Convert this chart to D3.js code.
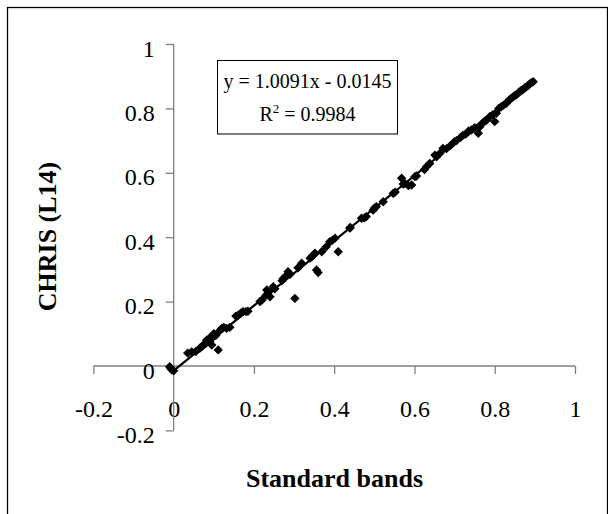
<!DOCTYPE html>
<html>
<head>
<meta charset="utf-8">
<script src="https://cdn.jsdelivr.net/npm/d3@7"></script>
<style>
  body { margin: 0; background: #fff; }
  svg { display: block; }
  .tick text { font-family: "Liberation Serif", "Times New Roman", serif; font-size: 24px; fill: #000; }
  .axis path, .axis line { stroke: #808080; stroke-width: 1.3; }
  .title { font-family: "Liberation Serif", "Times New Roman", serif; font-size: 26px; font-weight: bold; fill: #000; }
  .eq { font-family: "Liberation Serif", "Times New Roman", serif; font-size: 20px; fill: #000; }
</style>
</head>
<body>
<svg width="608" height="514"></svg>
<script>
// standard bands (x) vs CHRIS L14 (y)
const standardBands = [
  -0.008, -0.005, -0.01, 0.0,
  0.035, 0.045, 0.055, 0.065, 0.07, 0.074, 0.08, 0.082, 0.086, 0.09, 0.092, 0.095, 0.099, 0.1, 0.105, 0.111, 0.115, 0.12, 0.125, 0.132, 0.14,
  0.155, 0.161, 0.168, 0.173, 0.18, 0.185,
  0.215, 0.22, 0.23, 0.232, 0.236, 0.24, 0.248, 0.252,
  0.27, 0.273, 0.28, 0.285, 0.29, 0.302, 0.31, 0.319,
  0.34, 0.345, 0.348, 0.352, 0.356, 0.36, 0.369, 0.38, 0.389, 0.395, 0.402, 0.41,
  0.439, 0.44, 0.468, 0.475, 0.48, 0.497, 0.5, 0.505, 0.522, 0.547, 0.552, 0.568, 0.572, 0.576, 0.585, 0.593, 0.601, 0.605,
  0.625, 0.63, 0.638, 0.651, 0.655, 0.663, 0.671, 0.68, 0.69, 0.70, 0.705, 0.715, 0.721, 0.728, 0.735, 0.742, 0.75, 0.759, 0.763,
  0.77, 0.775, 0.78, 0.788, 0.795, 0.80, 0.804, 0.81, 0.816, 0.822, 0.829, 0.835, 0.84, 0.845, 0.85, 0.854, 0.86, 0.865,
  0.87, 0.875, 0.879, 0.884, 0.888, 0.892, 0.896
];
const chrisL14 = [
  -0.006, -0.012, -0.002, -0.015,
  0.04, 0.044, 0.045, 0.055, 0.06, 0.065, 0.07, 0.08, 0.081, 0.075, 0.09, 0.065, 0.091, 0.1, 0.095, 0.05, 0.11, 0.117, 0.12, 0.117, 0.12,
  0.155, 0.158, 0.165, 0.169, 0.169, 0.17,
  0.2, 0.205, 0.22, 0.236, 0.228, 0.215, 0.246, 0.24,
  0.265, 0.272, 0.28, 0.293, 0.285, 0.21, 0.305, 0.319,
  0.335, 0.34, 0.345, 0.35, 0.298, 0.29, 0.355, 0.37, 0.386, 0.39, 0.397, 0.355,
  0.428, 0.43, 0.459, 0.46, 0.464, 0.484, 0.49, 0.495, 0.51, 0.536, 0.54, 0.583, 0.565, 0.567, 0.56, 0.562, 0.588, 0.59,
  0.61, 0.619, 0.629, 0.655, 0.65, 0.66, 0.676, 0.675, 0.685, 0.697, 0.7, 0.71, 0.717, 0.72, 0.73, 0.733, 0.74, 0.723, 0.743,
  0.755, 0.76, 0.764, 0.775, 0.78, 0.759, 0.785, 0.8, 0.805, 0.81, 0.816, 0.825, 0.83, 0.835, 0.84, 0.842, 0.85, 0.855,
  0.858, 0.864, 0.867, 0.872, 0.877, 0.88, 0.883
];
const slope = 1.0091, intercept = -0.0145;
const eqLine = 'y = 1.0091x - 0.0145';
const r2Value = '0.9984';
const xTicks = [-0.2, 0, 0.2, 0.4, 0.6, 0.8, 1];
const yTicks = [-0.2, 0, 0.2, 0.4, 0.6, 0.8, 1];
const tickLabels = ['-0.2', '0', '0.2', '0.4', '0.6', '0.8', '1'];

const points = standardBands.map((x, i) => ({x: x, y: chrisL14[i]}));

const svg = d3.select('svg');

// outer chart frame
svg.append('rect')
   .attr('x', 7.5).attr('y', 7.5)
   .attr('width', 600).attr('height', 520)
   .attr('fill', 'none').attr('stroke', '#000').attr('stroke-width', 1.3);

const xScale = d3.scaleLinear().domain([-0.2, 1]).range([93.4, 575]);
const yScale = d3.scaleLinear().domain([-0.2, 1]).range([430.4, 44]);

const fmt = (d, i) => tickLabels[i];

// x axis crosses at y = 0
const xAxis = svg.append('g')
   .attr('class', 'axis')
   .attr('transform', `translate(0, ${yScale(0)})`)
   .call(d3.axisBottom(xScale).tickValues(xTicks).tickFormat(fmt).tickSize(8).tickPadding(26));

// y axis crosses at x = 0
const yAxis = svg.append('g')
   .attr('class', 'axis')
   .attr('transform', `translate(${xScale(0)}, 0)`)
   .call(d3.axisLeft(yScale).tickValues(yTicks).tickFormat(fmt).tickSize(8).tickPadding(11));

xAxis.select('.domain').attr('d', `M${xScale(-0.2)},0H${xScale(1)}`);
yAxis.select('.domain').attr('d', `M0,${yScale(1)}V${yScale(-0.2)}`);
yAxis.selectAll('.tick text').attr('dy', '0.5em');

// data markers (diamonds)
const diamond = d3.symbol().type(d3.symbolDiamond2).size(56);
svg.append('g')
   .selectAll('path')
   .data(points)
   .enter()
   .append('path')
   .attr('transform', d => `translate(${xScale(d.x)}, ${yScale(d.y)})`)
   .attr('d', diamond)
   .attr('fill', '#000');

// linear trendline over the data range
const xMax = d3.max(standardBands);
svg.append('line')
   .attr('x1', xScale(0)).attr('y1', yScale(intercept))
   .attr('x2', xScale(xMax)).attr('y2', yScale(slope * xMax + intercept))
   .attr('stroke', '#000').attr('stroke-width', 2.2);

// equation box
svg.append('rect')
   .attr('x', 217.5).attr('y', 60.5)
   .attr('width', 180).attr('height', 73.5)
   .attr('fill', '#fff').attr('stroke', '#000').attr('stroke-width', 1);

svg.append('text')
   .attr('class', 'eq')
   .attr('x', 307.5).attr('y', 88)
   .attr('text-anchor', 'middle')
   .text(eqLine);

const r2 = svg.append('text')
   .attr('class', 'eq')
   .attr('x', 307.5).attr('y', 120.5)
   .attr('text-anchor', 'middle');
r2.append('tspan').text('R');
r2.append('tspan').attr('dy', -8).attr('font-size', 13).text('2');
r2.append('tspan').attr('dy', 8).text(' = ' + r2Value);

// axis titles
svg.append('text')
   .attr('class', 'title')
   .attr('x', 334.5).attr('y', 487)
   .attr('text-anchor', 'middle')
   .text('Standard bands');

svg.append('text')
   .attr('class', 'title')
   .attr('transform', 'translate(56, 236.5) rotate(-90)')
   .attr('text-anchor', 'middle')
   .text('CHRIS (L14)');
</script>
</body>
</html>
